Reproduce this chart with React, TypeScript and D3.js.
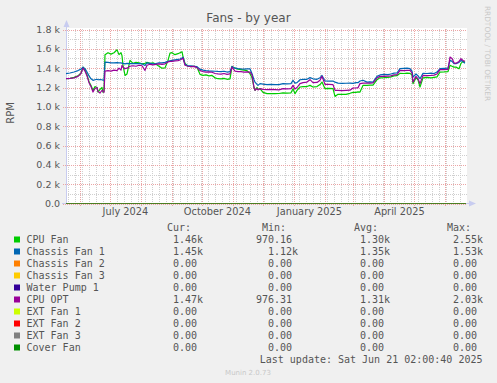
import React from "react";
import * as d3 from "d3";

// ---- data (days since graph start) ----
const dayIndex = [1,5,9,13,16,18,20,22,24,26,28,30,32,33,35,37,38,39,40,43,46,49,52,54,56,57,58,60,62,65,68,71,74,77,80,82,85,88,91,94,97,100,103,105,107,110,113,115,117,118,120,123,126,129,132,135,138,141,144,147,150,153,156,159,162,165,167,170,173,176,179,182,185,187,189,190,192,193,195,198,202,206,210,214,218,222,226,228,230,232,235,238,242,245,248,252,255,257,260,264,268,270,273,277,281,285,288,291,293,295,298,302,305,308,312,315,319,323,326,329,332,335,339,342,345,347,348,351,353,355,358,362,366,369,372,375,379,383,385,387,389,391,394,396,398,400,401];

const cpuFan = [1291,1295,1305,1320,1350,1411,1380,1330,1260,1220,1170,1210,1200,1153,1180,1200,1150,1160,1540,1560,1545,1560,1590,1540,1560,1530,1429,1325,1340,1481,1450,1460,1455,1445,1450,1460,1450,1455,1440,1420,1400,1403,1480,1555,1560,1540,1550,1560,1570,1520,1450,1420,1415,1420,1410,1336,1325,1330,1320,1325,1300,1291,1290,1295,1285,1290,1418,1400,1390,1385,1380,1375,1343,1300,1200,1170,1200,1180,1188,1150,1136,1138,1136,1138,1145,1142,1145,1188,1136,1170,1205,1210,1210,1222,1205,1210,1230,1256,1188,1190,1188,1108,1129,1130,1129,1140,1150,1150,1155,1153,1222,1222,1225,1225,1281,1300,1302,1305,1310,1320,1322,1346,1345,1348,1346,1330,1240,1300,1280,1205,1300,1305,1300,1305,1310,1360,1362,1365,1429,1420,1411,1411,1394,1450,1470,1460];

const chassisFan1 = [1343,1350,1360,1375,1390,1411,1395,1360,1320,1290,1274,1280,1285,1280,1281,1280,1275,1275,1463,1460,1455,1455,1458,1455,1455,1450,1450,1445,1450,1446,1446,1446,1448,1445,1428,1455,1450,1445,1448,1455,1455,1460,1470,1475,1480,1485,1490,1495,1505,1514,1440,1425,1425,1420,1415,1390,1380,1375,1372,1370,1368,1366,1365,1368,1360,1365,1418,1400,1395,1392,1390,1392,1394,1343,1280,1256,1232,1222,1240,1235,1229,1232,1230,1229,1240,1238,1240,1274,1245,1250,1280,1284,1285,1302,1290,1285,1300,1325,1267,1265,1267,1255,1245,1243,1244,1245,1243,1250,1250,1267,1275,1256,1258,1256,1315,1330,1335,1333,1340,1349,1350,1395,1398,1400,1395,1370,1308,1340,1320,1291,1346,1345,1348,1345,1360,1395,1398,1400,1481,1470,1446,1446,1460,1481,1465,1450];

const cpuOpt = [1291,1295,1300,1315,1345,1401,1370,1320,1250,1210,1153,1190,1200,1160,1143,1170,1160,1150,1370,1375,1370,1380,1375,1400,1380,1429,1410,1395,1400,1420,1425,1420,1430,1425,1377,1430,1440,1435,1440,1445,1440,1445,1465,1470,1470,1475,1478,1485,1495,1504,1430,1420,1415,1418,1405,1375,1365,1360,1362,1358,1345,1340,1338,1345,1336,1340,1411,1370,1365,1365,1360,1362,1360,1330,1200,1170,1190,1175,1188,1180,1178,1180,1178,1176,1188,1185,1188,1222,1185,1200,1240,1250,1256,1281,1250,1252,1275,1315,1232,1232,1230,1170,1170,1168,1170,1172,1195,1195,1198,1240,1245,1245,1245,1248,1298,1315,1315,1318,1320,1330,1332,1377,1375,1378,1377,1350,1256,1315,1290,1240,1325,1322,1325,1328,1340,1384,1385,1388,1515,1500,1455,1450,1470,1498,1480,1470];

const zeros = dayIndex.map(() => 0);

const seriesNames = ["CPU Fan","Chassis Fan 1","Chassis Fan 2","Chassis Fan 3","Water Pump 1","CPU OPT","EXT Fan 1","EXT Fan 2","EXT Fan 3","Cover Fan"];
const seriesColors = ["#00CC00","#0066B3","#FF8000","#FFCC00","#330099","#990099","#CCFF00","#FF0000","#808080","#008F00"];
const seriesValues = [cpuFan, chassisFan1, zeros, zeros, zeros, cpuOpt, zeros, zeros, zeros, zeros];

const curCol = ["  1.46k","  1.45k","  0.00 ","  0.00 ","  0.00 ","  1.47k","  0.00 ","  0.00 ","  0.00 ","  0.00 "];
const minCol = ["970.16 ","  1.12k","  0.00 ","  0.00 ","  0.00 ","976.31 ","  0.00 ","  0.00 ","  0.00 ","  0.00 "];
const avgCol = ["  1.30k","  1.35k","  0.00 ","  0.00 ","  0.00 ","  1.31k","  0.00 ","  0.00 ","  0.00 ","  0.00 "];
const maxCol = ["  2.55k","  1.53k","  0.00 ","  0.00 ","  0.00 ","  2.03k","  0.00 ","  0.00 ","  0.00 ","  0.00 "];

const yTickValues = [0,200,400,600,800,1000,1200,1400,1600,1800];
const yTickLabels = ["0.0","0.2 k","0.4 k","0.6 k","0.8 k","1.0 k","1.2 k","1.4 k","1.6 k","1.8 k"];
const xLabelMonths = ["2024-07-01","2024-10-01","2025-01-01","2025-04-01"];
const xLabelTexts = ["July 2024","October 2024","January 2025","April 2025"];

const START = Date.UTC(2024, 4, 17, 2, 0, 0);
const DAY = 86400000;

export default function App() {
  const W = 497, H = 383;
  const start = new Date(START);
  const end = new Date(START + 400 * DAY);
  const x = d3.scaleUtc().domain([start, end]).range([65, 465]);
  const y = d3.scaleLinear().domain([0, 1800]).range([203.5, 29.5]);
  const plotL = 66, plotR = 467, plotT = 28, plotB = 203.5;

  const dates = dayIndex.map((d) => new Date(START + d * DAY));
  const line = d3.line<number>()
    .x((_, i) => x(dates[i]))
    .y((v) => y(v));

  const months = d3.utcMonth.range(start, end);
  const weeks = d3.utcMonday.range(start, end);
  const px = (v: number) => Math.round(v) + 0.5;

  const minorY = d3.range(100, 1800, 200);
  const mono = "'DejaVu Sans Mono', monospace";
  const sans = "'DejaVu Sans', sans-serif";
  const txt = "#555";

  return (
    <svg width={W} height={H} style={{ position: "absolute", left: 0, top: 0 }} xmlns="http://www.w3.org/2000/svg">
      <rect x={0} y={0} width={W} height={H} fill="#F0F0F0" />
      <rect x={plotL} y={plotT} width={plotR - plotL} height={plotB - plotT} fill="#FFFFFF" />
      {/* minor vertical grid */}
      {weeks.map((d, i) => (
        <line key={"w" + i} x1={px(x(d))} x2={px(x(d))} y1={plotT + 1} y2={plotB} stroke="#CFCFCF" strokeDasharray="1,1" />
      ))}
      {/* minor horizontal grid */}
      {minorY.map((v, i) => (
        <line key={"mh" + i} x1={plotL} x2={plotR} y1={px(y(v))} y2={px(y(v))} stroke="#CFCFCF" strokeDasharray="1,1" />
      ))}
      {/* major vertical grid */}
      {months.map((d, i) => (
        <line key={"m" + i} x1={px(x(d))} x2={px(x(d))} y1={plotT + 1} y2={plotB + 3} stroke="#EBA5A5" strokeDasharray="1,1" />
      ))}
      {/* major horizontal grid */}
      {yTickValues.map((v, i) => (
        <line key={"Mh" + i} x1={plotL - 3} x2={plotR} y1={px(y(v))} y2={px(y(v))} stroke="#EBA5A5" strokeDasharray="1,1" />
      ))}
      {/* y labels */}
      {yTickValues.map((v, i) => (
        <text key={"yl" + i} x={60} y={y(v) + 3.6} textAnchor="end" fontFamily={sans} fontSize={9.5} fill={txt}>{yTickLabels[i]}</text>
      ))}
      {/* x labels */}
      {xLabelMonths.map((m, i) => {
        const d = new Date(Date.parse(m + "T00:00:00Z") + 15.5 * DAY);
        return (
          <text key={"xl" + i} x={x(d)} y={215} textAnchor="middle" fontFamily={sans} fontSize={9.8} fill={txt}>{xLabelTexts[i]}</text>
        );
      })}
      {/* axes */}
      <line x1={66.5} x2={66.5} y1={203.5} y2={24} stroke="#C8CCF0" />
      <path d="M63.5,27 L69.5,27 L66.5,20 Z" fill="#C8CCF0" />
      <line x1={62} x2={470} y1={203.5} y2={203.5} stroke="#C8CCF0" />
      <path d="M469,200.5 L469,206.5 L476,203.5 Z" fill="#C8CCF0" />
      {/* series */}
      {seriesValues.map((vals, i) => (
        <path key={"s" + i} d={line(vals) || ""} fill="none" stroke={seriesColors[i]} strokeWidth={1.2} strokeLinejoin="round" opacity={vals === zeros ? 0.55 : 1} />
      ))}
      {/* title */}
      <text x={248.5} y={22} textAnchor="middle" fontFamily={sans} fontSize={12} fill="#555">Fans - by year</text>
      {/* y axis title */}
      <text transform="translate(14,113) rotate(-90)" textAnchor="middle" fontFamily={sans} fontSize={10} fill={txt}>RPM</text>
      {/* watermark */}
      <text transform="translate(485,53.5) rotate(90)" textAnchor="middle" fontFamily={sans} fontSize={7.4} fill="#C8C8C8">RRDTOOL / TOBI OETIKER</text>
      {/* legend header */}
      <g fontFamily={mono} fontSize={10} fill={txt} style={{ whiteSpace: "pre" }}>
        <text x={167} y={231}>Cur:</text>
        <text x={262} y={231}>Min:</text>
        <text x={354} y={231}>Avg:</text>
        <text x={447} y={231}>Max:</text>
        {seriesNames.map((n, i) => {
          const by = 243.3 + i * 12;
          return (
            <g key={"lg" + i}>
              <rect x={14} y={by - 6.8} width={6} height={6} fill={seriesColors[i]} />
              <text x={26.5} y={by}>{n}</text>
              <text x={161} y={by} xmlSpace="preserve">{curCol[i]}</text>
              <text x={256} y={by} xmlSpace="preserve">{minCol[i]}</text>
              <text x={348} y={by} xmlSpace="preserve">{avgCol[i]}</text>
              <text x={441} y={by} xmlSpace="preserve">{maxCol[i]}</text>
            </g>
          );
        })}
        <text x={482.5} y={363} textAnchor="end">Last update: Sat Jun 21 02:00:40 2025</text>
      </g>
      <text x={248} y={375} textAnchor="middle" fontFamily={sans} fontSize={7} fill="#C8C8C8">Munin 2.0.73</text>
    </svg>
  );
}
